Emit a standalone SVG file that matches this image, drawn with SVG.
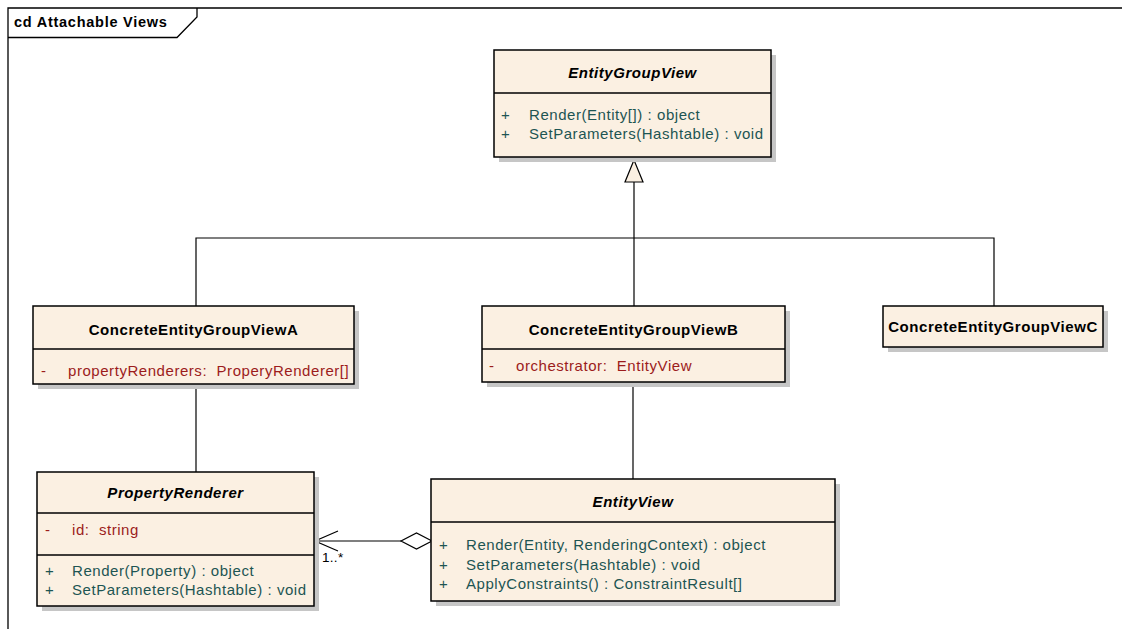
<svg xmlns="http://www.w3.org/2000/svg" width="1122" height="629" viewBox="0 0 1122 629">
<style>
text{font-family:"Liberation Sans",Arial,sans-serif;font-size:15px;letter-spacing:0.55px}
.box{fill:#FBF0E2;stroke:#000;stroke-width:1.5}
.sh{fill:#C6C6C6}
.sep{stroke:#000;stroke-width:1.5}
.t{font-weight:bold;text-anchor:middle;fill:#000}
.ti{font-weight:bold;font-style:italic;text-anchor:middle;fill:#000}
.m{fill:#1D5553}
.a{fill:#9C1C1C}
.ln{stroke:#000;stroke-width:1.2;fill:none}
</style>
<rect width="1122" height="629" fill="#fff"/>
<g id="frame">
<polyline points="8,629 8,8 1122,8" fill="none" stroke="#000" stroke-width="1.3"/>
<polyline points="8,37.5 177,37.5 197,17 197,8" fill="none" stroke="#000" stroke-width="1.3"/>
<text x="14" y="27" style="font-weight:bold;font-size:14.5px;letter-spacing:0.75px">cd Attachable Views</text>
</g>
<g id="connectors">
<polyline class="ln" points="196,306 196,238 994,238 994,306"/>
<line class="ln" x1="634" y1="182" x2="634" y2="306"/>
<polygon points="634,160 625,182 643,182" fill="#FBF0E2" stroke="#000" stroke-width="1.2"/>
<line class="ln" x1="196" y1="384" x2="196" y2="472"/>
<line class="ln" x1="633" y1="382" x2="633" y2="479"/>
<line class="ln" x1="315" y1="541" x2="401" y2="541"/>
<polyline class="ln" points="338,531 315,541 338,551"/>
<polygon points="432,541 416.5,533 401,541 416.5,549" fill="#fff" stroke="#000" stroke-width="1.2"/>
<text x="322" y="562" style="font-size:13.5px;letter-spacing:0.3px" fill="#000">1..*</text>
</g>
<g id="EntityGroupView">
<rect class="sh" x="499" y="55" width="277" height="107"/>
<rect class="box" x="494" y="50" width="277" height="107"/>
<line class="sep" x1="494" y1="93" x2="771" y2="93"/>
<text class="ti" x="632.5" y="78">EntityGroupView</text>
<text class="m" x="501" y="120">+</text><text class="m" x="529" y="120">Render(Entity[]) : object</text>
<text class="m" x="501" y="139">+</text><text class="m" x="529" y="139">SetParameters(Hashtable) : void</text>
</g>
<g id="ConcreteEntityGroupViewA">
<rect class="sh" x="38" y="311" width="321" height="78"/>
<rect class="box" x="33" y="306" width="321" height="78"/>
<line class="sep" x1="33" y1="349" x2="354" y2="349"/>
<text class="t" x="193.5" y="335">ConcreteEntityGroupViewA</text>
<text class="a" x="41" y="376">-</text><text class="a" x="68" y="376">propertyRenderers:&#160; ProperyRenderer[]</text>
</g>
<g id="ConcreteEntityGroupViewB">
<rect class="sh" x="487" y="311" width="303" height="76"/>
<rect class="box" x="482" y="306" width="303" height="76"/>
<line class="sep" x1="482" y1="349" x2="785" y2="349"/>
<text class="t" x="633.5" y="335">ConcreteEntityGroupViewB</text>
<text class="a" x="489" y="371">-</text><text class="a" x="516" y="371">orchestrator:&#160; EntityView</text>
</g>
<g id="ConcreteEntityGroupViewC">
<rect class="sh" x="888" y="311" width="220" height="41"/>
<rect class="box" x="883" y="306" width="220" height="41"/>
<text class="t" x="993" y="332">ConcreteEntityGroupViewC</text>
</g>
<g id="PropertyRenderer">
<rect class="sh" x="42" y="477" width="277" height="134"/>
<rect class="box" x="37" y="472" width="277" height="134"/>
<line class="sep" x1="37" y1="513" x2="314" y2="513"/>
<line class="sep" x1="37" y1="555" x2="314" y2="555"/>
<text class="ti" x="175.5" y="498">PropertyRenderer</text>
<text class="a" x="45" y="535">-</text><text class="a" x="72" y="535">id:&#160; string</text>
<text class="m" x="45" y="576">+</text><text class="m" x="72" y="576">Render(Property) : object</text>
<text class="m" x="45" y="595">+</text><text class="m" x="72" y="595">SetParameters(Hashtable) : void</text>
</g>
<g id="EntityView">
<rect class="sh" x="436" y="484" width="404" height="122"/>
<rect class="box" x="431" y="479" width="404" height="122"/>
<line class="sep" x1="431" y1="522" x2="835" y2="522"/>
<text class="ti" x="633" y="507">EntityView</text>
<text class="m" x="439" y="550">+</text><text class="m" x="466" y="550">Render(Entity, RenderingContext) : object</text>
<text class="m" x="439" y="570">+</text><text class="m" x="466" y="570">SetParameters(Hashtable) : void</text>
<text class="m" x="439" y="589">+</text><text class="m" x="466" y="589">ApplyConstraints() : ConstraintResult[]</text>
</g>
</svg>
